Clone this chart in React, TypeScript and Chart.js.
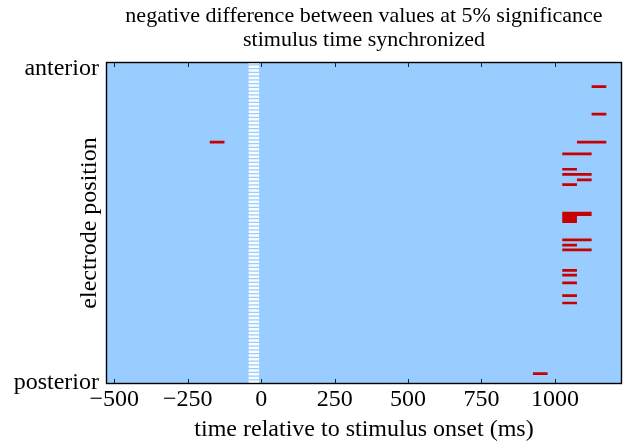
import { useEffect, useRef } from 'react';
import { Chart, registerables } from 'chart.js';

Chart.register(...registerables);

// ---- data ----
const titleLines = ['negative difference between values at 5% significance', 'stimulus time synchronized'];
const xTitle = 'time relative to stimulus onset (ms)';
const yTitle = 'electrode position';
const xTicks = [-500, -250, 0, 250, 500, 750, 1000];
const xMin = -525;
const xMax = 1225;
const yMin = 0;
const yMax = 100;
const yTickValues = [0, 98.3];
const yTickLabels = ['posterior', 'anterior'];
// white (excluded) stripe around stimulus onset
const stripeCenter = -25;
// significant negative-difference marks: electrode position (0 = posterior, 100 = anterior), start/end time (ms)
const markRows = [92.6, 84.0, 75.3, 71.6, 66.8, 65.2, 63.5, 62.0, 53.1, 52.6, 51.9, 51.1, 50.4, 44.7, 43.1, 41.6, 35.2, 33.7, 31.3, 27.3, 25.0, 2.9, 75.3];
const markStart = [1125, 1125, 1075, 1025, 1025, 1025, 1075, 1025, 1025, 1025, 1025, 1025, 1025, 1025, 1025, 1025, 1025, 1025, 1025, 1025, 1025, 925, -175];
const markEnd = [1175, 1175, 1175, 1125, 1075, 1125, 1125, 1075, 1125, 1125, 1075, 1075, 1075, 1125, 1075, 1125, 1075, 1075, 1075, 1075, 1075, 975, -125];

const FONT = 'Liberation Serif';

export default function App() {
  const ref = useRef<HTMLCanvasElement | null>(null);

  useEffect(() => {
    if (!ref.current) return;
    const markData: { x: number; y: number | null }[] = [];
    markRows.forEach((r, i) => {
      markData.push({ x: markStart[i], y: r });
      markData.push({ x: markEnd[i], y: r });
      markData.push({ x: markEnd[i], y: null });
    });

    const framePlugin = {
      id: 'frame',
      beforeDatasetsDraw(chart: any) {
        const { ctx, chartArea: a } = chart;
        ctx.save();
        ctx.fillStyle = '#99ccff';
        ctx.fillRect(a.left, a.top, a.right - a.left, a.bottom - a.top);
        ctx.restore();
      },
      afterDraw(chart: any) {
        const { ctx, chartArea: a } = chart;
        const xs = chart.scales.x;
        ctx.save();
        ctx.strokeStyle = '#000';
        ctx.lineWidth = 1.4;
        ctx.strokeRect(a.left - 0.5, a.top - 0.5, a.right - a.left + 1, a.bottom - a.top + 1);
        ctx.lineWidth = 1;
        ctx.strokeStyle = '#222';
        xTicks.forEach((v) => {
          const px = Math.round(xs.getPixelForValue(v)) + 0.5;
          ctx.beginPath();
          ctx.moveTo(px, a.bottom);
          ctx.lineTo(px, a.bottom - 4);
          ctx.moveTo(px, a.top);
          ctx.lineTo(px, a.top + 4);
          ctx.stroke();
        });
        ctx.restore();
      },
    };

    const chart = new Chart(ref.current, {
      type: 'line',
      data: {
        datasets: [
          {
            label: 'stripe',
            data: [
              { x: stripeCenter, y: yMin },
              { x: stripeCenter, y: yMax },
            ],
            borderColor: 'rgba(255,255,255,0.95)',
            borderWidth: 10.5,
            borderDash: [2.6, 1.15],
            pointRadius: 0,
            tension: 0,
          },
          {
            label: 'marks',
            data: markData,
            borderColor: '#c80000',
            borderWidth: 2.7,
            pointRadius: 0,
            spanGaps: false,
            tension: 0,
          },
        ],
      },
      options: {
        animation: false,
        responsive: false,
        maintainAspectRatio: false,
        layout: { padding: { left: 0, right: 17, top: 0, bottom: 0 } },
        plugins: {
          legend: { display: false },
          tooltip: { enabled: false },
          title: {
            display: true,
            fullSize: false,
            text: titleLines,
            color: '#000',
            font: { family: FONT, size: 22, weight: 'normal', lineHeight: 1.1 },
            padding: { top: 4, bottom: 10.6 },
          },
        },
        scales: {
          x: {
            type: 'linear',
            min: xMin,
            max: xMax,
            afterBuildTicks: (s: any) => {
              s.ticks = xTicks.map((v) => ({ value: v }));
            },
            afterFit: (s: any) => {
              s.height = 63;
            },
            grid: { display: false, drawTicks: false },
            border: { display: false },
            ticks: {
              autoSkip: false,
              maxRotation: 0,
              padding: 2,
              color: '#000',
              font: { family: FONT, size: 24, lineHeight: 1.2 },
              callback: (v: any) => String(v).replace('-', '\u2212'),
            },
            title: {
              display: true,
              text: xTitle,
              color: '#000',
              font: { family: FONT, size: 24, lineHeight: 1.2 },
              padding: { top: 0, bottom: 1.5 },
            },
          },
          y: {
            type: 'linear',
            min: yMin,
            max: yMax,
            afterBuildTicks: (s: any) => {
              s.ticks = yTickValues.map((v) => ({ value: v }));
            },
            afterFit: (s: any) => {
              s.width = 107;
            },
            grid: { display: false, drawTicks: false },
            border: { display: false },
            ticks: {
              autoSkip: false,
              padding: 8,
              color: '#000',
              font: { family: FONT, size: 24 },
              callback: (v: any) => yTickLabels[yTickValues.indexOf(Number(v))] ?? '',
            },
            title: {
              display: true,
              text: yTitle,
              color: '#000',
              font: { family: FONT, size: 24, lineHeight: 1.2 },
              padding: { top: 75.5, bottom: 0 },
            },
          },
        },
      },
      plugins: [framePlugin],
    });
    return () => chart.destroy();
  }, []);

  return (
    <div style={{ position: 'fixed', left: 0, top: 0, width: 638, height: 446, background: '#fff' }}>
      <canvas ref={ref} width={638} height={446} style={{ width: 638, height: 446, display: 'block' }} />
    </div>
  );
}
